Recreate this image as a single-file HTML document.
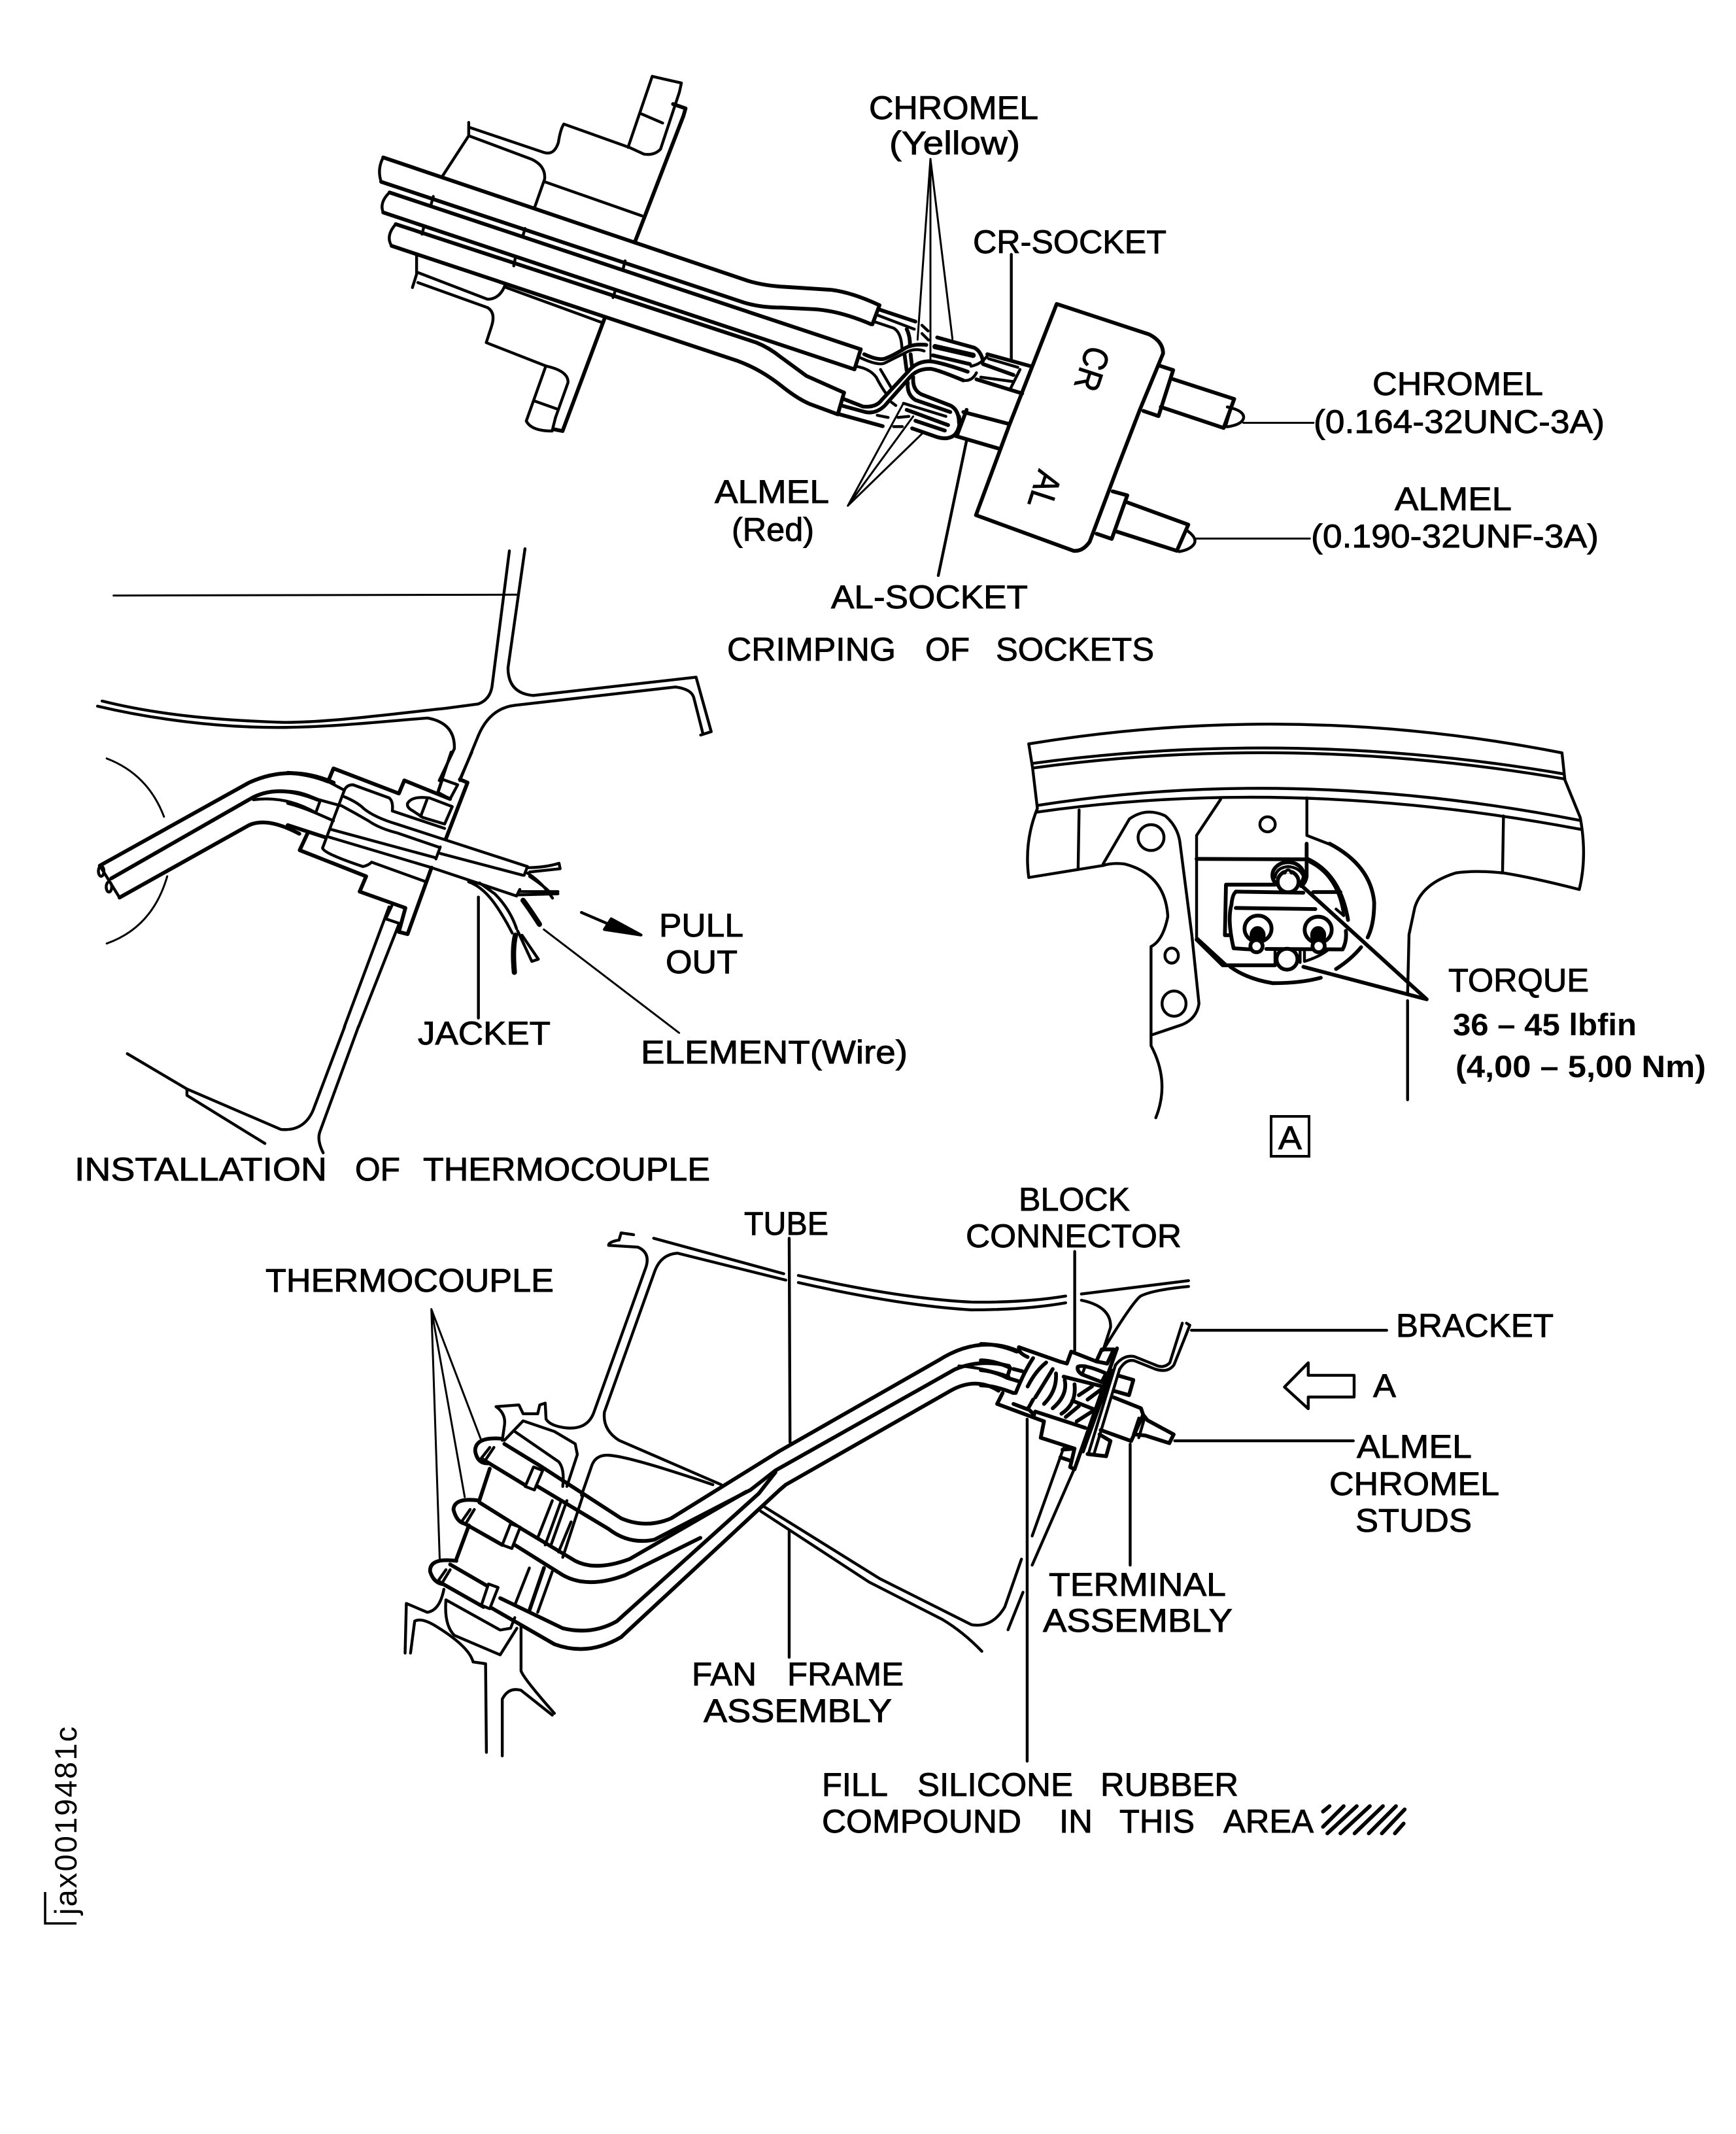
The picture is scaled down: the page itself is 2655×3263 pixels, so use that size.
<!DOCTYPE html>
<html>
<head>
<meta charset="utf-8">
<style>
html,body{margin:0;padding:0;background:#fff}
svg{display:block}
path,line,ellipse,circle,polyline,polygon,rect{vector-effect:non-scaling-stroke}
.g{fill:none;stroke:#000;stroke-width:4.4;stroke-linecap:round;stroke-linejoin:round}
.t{stroke-width:3}
.k{stroke-width:5.8}
.x{stroke-width:8}
.w{fill:#fff}
.b{fill:#000}
text{font-family:"Liberation Sans",sans-serif;font-size:50px;fill:#000;stroke:#000;stroke-width:.9}
</style>
</head>
<body>
<svg xmlns="http://www.w3.org/2000/svg" width="2655" height="3263" viewBox="0 0 2655 3263">
<rect width="2655" height="3263" fill="#fff"/>

<!-- TOP: crimping of sockets, tubes and flange -->
<g class="g" transform="translate(500,80) scale(.6378,.5102)">
<path d="M780,72 L850,92 L845,120 L800,290 Q785,310 760,305 L725,285 L568,215 Q560,230 555,270 Q545,310 520,300 L342,225"/>
<path d="M340,210 L340,250 L275,375"/>
<path d="M340,250 L490,320 Q525,340 522,380 L498,465"/>
<path d="M522,388 L755,490"/>
<path d="M780,72 L722,285"/>
<path d="M755,185 L805,212"/>
<path class="k" d="M830,155 L860,168 L855,190 L738,570"/>
<path class="k" d="M135,315 L1010,685 Q1050,700 1100,703 L1210,712 Q1260,720 1325,758"/>
<path class="k" d="M130,388 L1000,750 Q1040,765 1090,765 L1170,770 Q1230,775 1305,815"/>
<path d="M135,315 Q120,350 130,388"/>
<path class="k" d="M1325,758 L1308,815"/>
<path class="k" d="M150,420 L1280,890"/>
<path class="k" d="M135,480 L1265,950"/>
<path d="M150,420 Q125,450 135,480"/>
<path class="k" d="M1280,890 L1265,950"/>
<path class="k" d="M165,515 L1030,870 Q1060,885 1090,915 L1150,970 L1240,1020"/>
<path class="k" d="M155,580 L985,925 Q1040,950 1090,1000 Q1130,1040 1160,1055 L1225,1085"/>
<path d="M165,515 Q140,550 155,580"/>
<path class="k" d="M1240,1020 L1225,1085"/>
<path d="M255,432 L250,455 M475,528 L470,550 M715,625 L710,650 M232,525 L228,545 M452,615 L448,640 M692,712 L686,735"/>
<path d="M215,605 L215,665 L205,705"/>
<path d="M218,660 L385,740 Q415,740 428,695"/>
<path d="M218,690 L385,765 Q405,780 395,820 L382,870 L525,940 Q580,955 578,990 L548,1095"/>
<path d="M525,940 L478,1105 Q490,1135 540,1135 L548,1095"/>
<path d="M498,1045 L550,1068"/>
<path d="M430,705 L660,810"/>
<path class="k" d="M665,800 L565,1135 L545,1130"/>
</g>

<!-- Crimp wires detail -->
<g class="g" transform="translate(1240,420) scale(.33333)">
<path class="k" d="M315,160 L480,215"/>
<path d="M305,185 L475,250"/>
<path d="M290,215 L380,245 Q415,265 418,335"/>
<path class="k" d="M440,250 Q455,280 455,320"/>
<path class="k" d="M245,365 Q310,395 340,385 Q370,375 420,345 Q460,315 530,322"/>
<path d="M225,380 Q310,420 340,405 L440,355 Q480,335 520,350"/>
<path d="M205,420 Q270,430 300,470 Q320,510 345,545"/>
<path d="M320,435 L370,520"/>
<path class="k" d="M430,365 L440,440 M458,365 L465,425"/>
<path class="k" d="M150,570 L240,605 Q300,610 325,575 L460,430 Q490,400 540,397 Q580,397 720,445"/>
<path class="k" d="M140,600 L250,630 Q300,640 340,600 L455,470 Q490,430 550,432 Q580,435 700,485"/>
<path class="k" d="M130,640 L330,695"/>
<path d="M305,645 L355,655 M380,697 L420,697 M400,655 L450,650 M370,585 L390,600"/>
<path d="M510,232 L538,258 M510,270 L540,300"/>
<path class="k" d="M470,470 Q465,530 510,550 L640,600 Q680,620 680,680"/>
<path class="k" d="M445,495 Q440,550 480,575 L640,630"/>
<path d="M425,590 L620,650"/>
<path class="k" d="M440,620 L630,690"/>
<path class="k" d="M480,670 L615,715"/>
<path class="k" d="M465,705 L580,745 Q630,760 660,735 Q690,700 680,650"/>
<path class="k" d="M700,630 L910,685"/>
<path class="k" d="M665,740 L870,800"/>
<path class="k" d="M580,288 L750,335 Q780,350 790,395"/>
<path class="x" d="M570,330 L745,370"/>
<path class="k" d="M560,370 L730,410"/>
<path class="k" d="M810,365 L1010,420"/>
<path d="M815,385 L950,425"/>
<path class="k" d="M790,410 L930,460"/>
<path d="M780,470 L925,490"/>
<path class="k" d="M760,480 L970,545"/>
<path d="M815,365 Q785,410 735,420 M700,485 Q740,490 760,450"/>
<path d="M960,435 L915,525"/>
<path class="k" d="M715,620 L670,740"/>
<path class="t" d="M549,-531 L490,298 M549,-531 L549,395 M549,-531 L650,295"/>
<path class="t" d="M170,1060 L425,590 M170,1060 L470,650 M170,1060 L510,730"/>
<path d="M920,-93 L920,390"/>
<path d="M715,760 L585,1380"/>
</g>

<!-- Connector block -->
<g class="g" transform="translate(1400,80) scale(.7015,.6059)">
<path class="k" d="M308,635 L510,712 Q540,730 540,760 L490,900 L440,1050 L380,1235 Q365,1260 345,1258 L132,1168 L205,940 L308,635 Z"/>
<path class="k" d="M562,825 L695,875"/>
<path class="k" d="M530,790 L562,802 L530,918 L497,905"/>
<path class="k" d="M535,895 L672,948 L695,875"/>
<path d="M680,895 Q720,905 715,925 Q710,940 680,945"/>
<path d="M690,890 L676,945"/>
<path class="t" d="M715,935 L868,935"/>
<path class="k" d="M430,1108 L462,1118 L428,1228 L395,1215"/>
<path class="k" d="M460,1135 L595,1192 L570,1258 L435,1208"/>
<path d="M590,1205 Q615,1225 608,1240 Q600,1255 575,1260"/>
<path class="t" d="M610,1227 L860,1227"/>
</g>
<text transform="translate(1663,526) rotate(108)" textLength="68" lengthAdjust="spacingAndGlyphs" style="font-size:54px">CR</text>
<text transform="translate(1589,716) rotate(108)" textLength="58" lengthAdjust="spacingAndGlyphs" style="font-size:54px">AL</text>

<!-- Installation -->
<g class="g" transform="translate(100,800) scale(.7015,.6505)">
<path class="t" d="M105,170 L985,168"/>
<path d="M968,65 L930,385 Q925,415 900,425 L830,435 C700,450 560,470 470,468 C300,462 180,445 80,418"/>
<path d="M1002,60 L965,340 Q965,400 1020,405 L1375,362 L1408,490 L1385,498"/>
<path d="M70,430 C180,458 330,482 480,480 C600,478 700,465 790,458 Q850,470 848,530 L815,605"/>
<path d="M980,428 L1330,385 Q1365,390 1370,410 L1390,495"/>
<path d="M980,428 Q925,435 900,500 L860,605"/>
<path class="k" d="M75,805 L400,610 Q490,565 585,610"/>
<path class="k" d="M100,835 L400,650 Q460,610 550,650"/>
<path d="M410,650 Q480,640 545,680"/>
<path class="k" d="M118,880 L400,710 Q440,690 510,730"/>
<path d="M75,805 L118,880"/>
<ellipse cx="78" cy="818" rx="6" ry="12"/>
<ellipse cx="95" cy="855" rx="6" ry="12"/>
<path class="t" d="M90,553 Q180,590 215,690 M90,988 Q190,950 222,830"/>
<path d="M609,1183 L540,1380 Q520,1430 470,1425 L265,1330 L135,1247"/>
<path d="M265,1330 L265,1345 L435,1458"/>
<path d="M639,1183 L555,1430 Q548,1450 562,1480"/>
<path class="t" d="M1043,955 L1338,1198"/>
<path d="M1125,915 L1190,945"/>
<path class="b" d="M1255,968 L1175,955 L1190,930 Z"/>
</g>

<g class="g" transform="translate(440,1150) scale(.33333)">
<path class="k" d="M0,95 Q100,100 185,135 L210,75 L510,190 L535,130 L745,215"/>
<path d="M750,0 L690,180 M845,0 L790,125"/>
<path d="M710,125 L780,150 L745,215 L690,185 Z"/>
<path class="k" d="M790,125 L825,140 L725,400"/>
<path d="M185,135 L260,175"/>
<path d="M260,175 Q270,150 300,150 L465,210 Q485,225 480,270 L720,350"/>
<path d="M260,175 L160,440 Q165,465 345,525 Q370,520 385,505 L635,595"/>
<path d="M0,180 Q60,180 130,215 L240,245"/>
<path d="M0,235 Q60,250 130,280 L210,315"/>
<path d="M150,220 L130,275"/>
<path d="M260,205 Q320,230 350,260 Q400,300 500,330 L715,400 L1100,525"/>
<path d="M245,245 Q310,280 370,315 Q420,350 500,370 L690,435"/>
<path d="M200,355 L680,485"/>
<path d="M190,390 L660,530 L1050,660"/>
<path d="M700,435 L680,490"/>
<path d="M700,465 L1080,565"/>
<path d="M1100,525 L1085,565"/>
<path d="M1065,630 L1050,660"/>
<path class="k" d="M0,335 L170,390"/>
<path class="k" d="M90,375 L55,450 L360,570 L330,640 L540,715 L510,825"/>
<path d="M480,700 L450,765 L510,785"/>
<path class="k" d="M660,530 L550,835 L510,825"/>
<path d="M465,710 L260,1260 M510,790 L325,1260"/>
<path d="M550,235 Q570,200 650,210 L755,250 L720,330 L620,300 L575,270 Q545,255 550,235 Z"/>
<path d="M640,215 L610,295"/>
<path d="M1100,530 Q1180,530 1245,510 L1250,535 L1110,550"/>
<path d="M1060,640 L1240,640 M1060,655 L1240,650"/>
<path d="M1100,555 Q1170,600 1215,670 M1110,570 Q1170,610 1200,640"/>
<path class="x" d="M1080,680 Q1110,720 1155,790"/>
<path d="M830,595 Q900,620 960,710 Q1000,770 1030,830"/>
<path d="M880,600 L950,650 Q1020,720 1050,810"/>
<path class="x" d="M1045,840 Q1030,900 1040,1010"/>
<path d="M1055,820 L1120,960 L1150,950 L1075,840"/>
<path d="M875,665 L875,1220"/>
</g>

<!-- View A -->
<g class="g" transform="translate(1500,1080) scale(.7334,.4592)">
<path d="M100,125 Q656,-20 1212,155"/>
<path d="M108,190 Q656,72 1215,225"/>
<path d="M110,205 Q656,88 1218,242"/>
<path d="M118,330 Q656,195 1250,380"/>
<path d="M118,352 Q656,230 1252,410"/>
<path d="M100,125 L108,205 L118,340 Q90,450 100,570 L255,530"/>
<path d="M1212,155 L1218,245 L1250,370 Q1265,500 1248,610 Q1150,570 1090,555 Q1030,545 990,555 Q920,590 905,670 L893,760 L890,960"/>
<path d="M890,980 L890,1310"/>
<path d="M205,345 L203,540 M1090,365 L1088,555"/>
<path d="M255,525 L310,375 Q345,335 385,365 Q410,400 415,450 L440,760 L455,990 Q450,1040 420,1060 L355,1095 L355,800 Q380,780 390,700 Q385,560 300,525 Q275,520 255,530"/>
<path d="M355,1095 L355,1130 Q395,1250 365,1370"/>
<ellipse cx="355" cy="437" rx="27" ry="43"/>
<ellipse cx="398" cy="830" rx="14" ry="25"/>
<ellipse cx="403" cy="990" rx="25" ry="42"/>
<ellipse cx="598" cy="393" rx="16" ry="25"/>
<path d="M500,310 L450,430 L450,770 L510,858"/>
<path d="M680,305 L680,430 L727,459"/>
</g>
<g class="g" transform="translate(1830,1290) scale(.33333)">
<path class="k" d="M0,70 L510,72"/>
<path class="k" d="M505,0 L505,150 Q500,180 480,195"/>
<ellipse class="k" cx="420" cy="145" rx="72" ry="60"/>
<path d="M360,155 Q365,110 420,105 Q475,110 490,150"/>
<circle class="k w" cx="420" cy="175" r="48"/>
<path class="w" d="M405,135 Q420,105 435,135"/>
<path class="k" d="M360,188 L135,188 L130,420 L150,420"/>
<path class="k" d="M180,220 L490,225 M535,222 L660,222"/>
<path class="k" d="M180,222 Q165,230 160,280 Q140,350 170,480 L245,485"/>
<path class="k" d="M320,483 L670,485 Q690,450 685,400"/>
<path class="k" d="M180,295 L545,300"/>
<path d="M640,300 L675,330"/>
<path class="k" d="M510,70 Q660,140 695,350"/>
<path d="M520,85 Q650,150 675,330"/>
<ellipse class="k" cx="282" cy="390" rx="62" ry="60"/>
<ellipse class="b" cx="280" cy="420" rx="30" ry="35"/>
<circle class="k w" cx="275" cy="470" r="28"/>
<ellipse class="k" cx="558" cy="395" rx="62" ry="60"/>
<ellipse class="b" cx="558" cy="420" rx="30" ry="35"/>
<circle class="k w" cx="560" cy="470" r="28"/>
<circle class="k w" cx="415" cy="530" r="48"/>
<path d="M360,490 L360,550 M475,490 L475,545"/>
<path d="M495,490 L495,540 Q560,520 600,490"/>
<path class="k" d="M0,440 L120,558 L360,558"/>
<path class="k" d="M155,565 Q230,620 350,640 Q480,640 570,615"/>
<path class="k" d="M640,575 Q710,530 755,475"/>
<path class="k" d="M610,0 Q800,100 815,270 Q815,370 785,430"/>
<path class="k" d="M490,200 L1056,714 M490,565 L1056,714"/>
</g>
<rect x="1944" y="1707" width="58" height="61" fill="none" stroke="#000" stroke-width="4"/>

<!-- Bottom assembly -->
<g class="g" transform="translate(580,1850) scale(.6378,.5421)">
<path d="M658,80 L970,180"/>
<path d="M975,198 L715,122 Q675,125 660,175 L540,570 Q535,620 575,650 L820,775"/>
<path d="M1005,185 Q1250,250 1420,260 Q1550,262 1646,243"/>
<path d="M1005,205 Q1250,270 1420,282 Q1550,282 1646,262"/>
<path d="M610,70 L580,65 L575,85 Q550,90 550,100 L620,105 Q650,120 640,160 L515,570 Q500,620 450,615 Q410,610 400,590 L398,545 L385,550 L380,575 L345,575 L335,550 L280,555 Q305,575 300,610 L295,650"/>
<path d="M485,805 L510,720 Q520,690 550,692 Q600,695 800,775"/>
<path d="M920,835 L1200,1040 L1420,1170 Q1470,1180 1500,1120 L1540,985"/>
<path d="M915,850 L1175,1050 L1350,1155 Q1400,1190 1445,1245"/>
<path d="M300,650 L345,595 L420,625 L470,660 L475,690 L450,780"/>
<path d="M325,625 L430,710 Q445,730 440,780"/>
<path class="k" d="M265,730 L240,820 M215,890 L185,985"/>
<path d="M160,1100 L290,1185 L315,1180 L325,1150"/>
<path d="M160,1100 Q155,1170 180,1200 L290,1255 L330,1180"/>
<path d="M415,820 L380,925 M435,825 L398,945 M450,820 L412,945 M460,880 L430,965 M360,1010 L325,1115 M415,1020 L380,1135 M490,800 L440,980"/>
<path class="k" d="M395,1010 L360,1130"/>
<path d="M340,1170 L340,1300 Q345,1320 420,1420"/>
<path d="M62,1250 L65,1110 L115,1135 Q145,1130 155,1070"/>
<path d="M75,1250 L85,1160 Q100,1150 130,1170 Q215,1230 225,1275 L255,1280 L257,1530"/>
<path d="M295,1540 L295,1380 Q310,1345 340,1355 L415,1425"/>
<path class="k" d="M300,660 L390,725 L580,870 Q640,900 700,870 L960,680 L1340,425 Q1440,350 1535,400"/>
<path class="k" d="M250,705 L355,780 M380,780 L550,900 Q600,945 660,930 L890,790 L950,735 L1380,450 Q1440,420 1510,440"/>
<path d="M1390,440 Q1450,445 1510,470"/>
<path class="k" d="M240,825 L335,895 L470,990 Q520,1020 600,985 L880,795"/>
<path class="k" d="M205,885 L295,945 M325,945 L440,1030 Q500,1070 590,1030 L770,925"/>
<path class="k" d="M170,1000 L280,1075 M290,1095 L440,1180 Q510,1200 570,1160 L910,800 L950,740"/>
<path class="k" d="M145,1050 L250,1120 M265,1120 L420,1225 Q500,1260 580,1205 L960,790 L975,775 L1370,510 Q1430,470 1485,510"/>
<path class="k" d="M290,645 Q230,640 230,680 Q235,715 260,715"/>
<path d="M265,670 L245,700 M275,670 L255,705"/>
<path class="k" d="M240,820 Q180,810 178,845 Q185,880 205,885"/>
<path d="M218,845 L200,875 M228,845 L210,880"/>
<path class="k" d="M185,990 Q120,980 122,1020 Q130,1050 150,1055"/>
<path d="M160,1015 L142,1045 M170,1015 L152,1050"/>
<path class="w" d="M370,725 L392,735 L372,790 L350,780 Z"/>
<path class="w" d="M315,885 L338,895 L318,955 L295,945 Z"/>
<path class="w" d="M262,1055 L285,1065 L265,1125 L245,1115 Z"/>
<path class="t" d="M125,280 L243,645 M125,280 L205,810 M125,280 L145,985"/>
<path d="M983,80 L985,655 M983,905 L983,1262"/>
</g>

<g class="g" transform="translate(1400,1800) scale(.6378)">
<path d="M365,285 Q200,300 0,290 M365,300 Q200,320 0,305" style="display:none"/>
<path d="M398,280 L655,248"/>
<path d="M655,262 Q570,270 540,285 Q520,300 450,415"/>
<path d="M398,295 Q470,310 468,360 L450,415"/>
<path d="M650,350 L658,355 L620,450 Q605,470 575,460 L525,440 Q505,435 490,460"/>
<path d="M640,350 L610,445 Q595,460 575,450 L525,430 Q500,425 480,450"/>
<path d="M355,650 L280,860 M385,690 L280,930"/>
<path d="M382,178 L382,415"/>
<path d="M662,367 L1130,367"/>
<path d="M622,632 L1050,632"/>
<path d="M515,640 L515,930"/>
<path d="M268,580 L268,1400"/>
<path d="M258,995 L222,1085"/>
<path d="M942,445 L885,503 L942,555 L942,527 L1052,527 L1052,475 L942,475 Z"/>
</g>

<g class="g" transform="translate(1500,2030) scale(.33333)">
<path class="k" d="M0,75 Q80,75 165,110"/>
<path class="k" d="M175,90 L360,155 L395,165 L415,110 L530,155"/>
<path class="k" d="M175,90 Q170,115 215,135"/>
<path class="k" d="M0,150 Q60,150 135,185 M0,195 Q60,200 120,230 L170,245 M0,265 Q60,265 150,300"/>
<path class="k" d="M150,190 L190,200 M135,185 L120,230"/>
<path class="k" d="M100,300 L75,350 L290,430 L275,505 L430,555 L410,640 L430,650"/>
<path class="k" d="M555,100 L530,155 L580,165 L610,100 L555,100"/>
<path class="k" d="M625,95 L430,650"/>
<path d="M605,195 L470,570 M618,171 L495,575 M637,190 L520,578"/>
<path class="k" d="M610,320 L735,370 L745,400 L690,520 L550,470"/>
<path class="k" d="M745,400 L765,425 L885,490 L865,530 L755,495 L710,490"/>
<path d="M725,415 L700,490 M750,420 L725,505"/>
<path class="k" d="M630,220 L700,240 L680,310 L610,290"/>
<path class="k" d="M545,490 L595,520 L575,590 L490,580"/>
<path class="k" d="M445,180 Q470,165 575,210 L555,250 L465,215 Q440,200 445,180 Z"/>
<path d="M480,175 L465,215"/>
<path class="k" d="M375,560 L430,555 M365,595 L410,610"/>
<path class="k" d="M160,300 Q200,200 240,140 M215,270 Q250,200 300,160 M250,320 Q300,240 330,190 M290,350 Q350,290 345,210 M330,370 Q400,310 385,240 M370,395 Q440,350 430,260"/>
<path class="k" d="M150,350 L215,375 L240,330 M250,385 L480,460 M420,335 L520,375 M450,310 L510,270 M490,330 L550,285 M390,410 L450,360 M440,430 L510,385 M380,225 L560,270 M215,370 L245,400"/>
</g>

<!-- Hatch -->
<g class="g" transform="translate(1960,2720) scale(.33333)">
<path class="k" d="M190,150 L220,125 M190,220 L285,125 M210,250 L345,125 M270,250 L405,125 M335,250 L465,125 M400,250 L525,125 M460,250 L565,140 M520,250 L560,205"/>
</g>

<!-- Side code -->
<g fill="none" stroke="#000" stroke-width="3.5"><path d="M69,2893 L69,2941 L117,2941"/></g>
<text transform="translate(117,2928) rotate(-90)" textLength="288" lengthAdjust="spacing" style="font-size:47px;stroke-width:0">jax0019481c</text>

<!-- Labels -->
<text x="1329" y="182" textLength="259" lengthAdjust="spacingAndGlyphs">CHROMEL</text>
<text x="1360" y="236" textLength="200" lengthAdjust="spacingAndGlyphs">(Yellow)</text>
<text x="1488" y="387" textLength="296" lengthAdjust="spacingAndGlyphs">CR-SOCKET</text>
<text x="2099" y="604" textLength="261" lengthAdjust="spacingAndGlyphs">CHROMEL</text>
<text x="2009" y="662" textLength="445" lengthAdjust="spacingAndGlyphs">(0.164-32UNC-3A)</text>
<text x="2133" y="780" textLength="179" lengthAdjust="spacingAndGlyphs">ALMEL</text>
<text x="2005" y="837" textLength="440" lengthAdjust="spacingAndGlyphs">(0.190-32UNF-3A)</text>
<text x="1093" y="769" textLength="175" lengthAdjust="spacingAndGlyphs">ALMEL</text>
<text x="1119" y="827" textLength="126" lengthAdjust="spacingAndGlyphs">(Red)</text>
<text x="1271" y="930" textLength="301" lengthAdjust="spacingAndGlyphs">AL-SOCKET</text>
<text x="1112" y="1010" textLength="258" lengthAdjust="spacingAndGlyphs">CRIMPING</text>
<text x="1415" y="1010" textLength="68" lengthAdjust="spacingAndGlyphs">OF</text>
<text x="1523" y="1010" textLength="242" lengthAdjust="spacingAndGlyphs">SOCKETS</text>
<text x="1008" y="1432" textLength="129" lengthAdjust="spacingAndGlyphs">PULL</text>
<text x="1018" y="1488" textLength="110" lengthAdjust="spacingAndGlyphs">OUT</text>
<text x="639" y="1597" textLength="203" lengthAdjust="spacingAndGlyphs">JACKET</text>
<text x="980" y="1626" textLength="408" lengthAdjust="spacingAndGlyphs">ELEMENT(Wire)</text>
<text x="114" y="1805" textLength="386" lengthAdjust="spacingAndGlyphs">INSTALLATION</text>
<text x="543" y="1805" textLength="69" lengthAdjust="spacingAndGlyphs">OF</text>
<text x="647" y="1805" textLength="439" lengthAdjust="spacingAndGlyphs">THERMOCOUPLE</text>
<text x="2215" y="1516" textLength="215" lengthAdjust="spacingAndGlyphs">TORQUE</text>
<text x="2222" y="1583" textLength="281" lengthAdjust="spacingAndGlyphs" style="font-size:47px;font-weight:bold;stroke-width:0">36 – 45 lbfin</text>
<text x="2226" y="1647" textLength="383" lengthAdjust="spacingAndGlyphs" style="font-size:47px;font-weight:bold;stroke-width:0">(4,00 – 5,00 Nm)</text>
<text x="1955" y="1757" textLength="36" lengthAdjust="spacingAndGlyphs">A</text>
<text x="1138" y="1888" textLength="129" lengthAdjust="spacingAndGlyphs">TUBE</text>
<text x="406" y="1975" textLength="441" lengthAdjust="spacingAndGlyphs">THERMOCOUPLE</text>
<text x="1058" y="2577" textLength="99" lengthAdjust="spacingAndGlyphs">FAN</text>
<text x="1204" y="2577" textLength="178" lengthAdjust="spacingAndGlyphs">FRAME</text>
<text x="1076" y="2633" textLength="288" lengthAdjust="spacingAndGlyphs">ASSEMBLY</text>
<text x="1558" y="1851" textLength="170" lengthAdjust="spacingAndGlyphs">BLOCK</text>
<text x="1477" y="1907" textLength="330" lengthAdjust="spacingAndGlyphs">CONNECTOR</text>
<text x="2135" y="2044" textLength="241" lengthAdjust="spacingAndGlyphs">BRACKET</text>
<text x="2100" y="2136" textLength="35" lengthAdjust="spacingAndGlyphs">A</text>
<text x="2075" y="2229" textLength="176" lengthAdjust="spacingAndGlyphs">ALMEL</text>
<text x="2033" y="2286" textLength="260" lengthAdjust="spacingAndGlyphs">CHROMEL</text>
<text x="2073" y="2342" textLength="178" lengthAdjust="spacingAndGlyphs">STUDS</text>
<text x="1604" y="2440" textLength="271" lengthAdjust="spacingAndGlyphs">TERMINAL</text>
<text x="1595" y="2495" textLength="290" lengthAdjust="spacingAndGlyphs">ASSEMBLY</text>
<text x="1257" y="2746" textLength="101" lengthAdjust="spacingAndGlyphs">FILL</text>
<text x="1403" y="2746" textLength="238" lengthAdjust="spacingAndGlyphs">SILICONE</text>
<text x="1683" y="2746" textLength="211" lengthAdjust="spacingAndGlyphs">RUBBER</text>
<text x="1257" y="2802" textLength="305" lengthAdjust="spacingAndGlyphs">COMPOUND</text>
<text x="1620" y="2802" textLength="51" lengthAdjust="spacingAndGlyphs">IN</text>
<text x="1712" y="2802" textLength="115" lengthAdjust="spacingAndGlyphs">THIS</text>
<text x="1871" y="2802" textLength="138" lengthAdjust="spacingAndGlyphs">AREA</text>
</svg>
</body>
</html>
